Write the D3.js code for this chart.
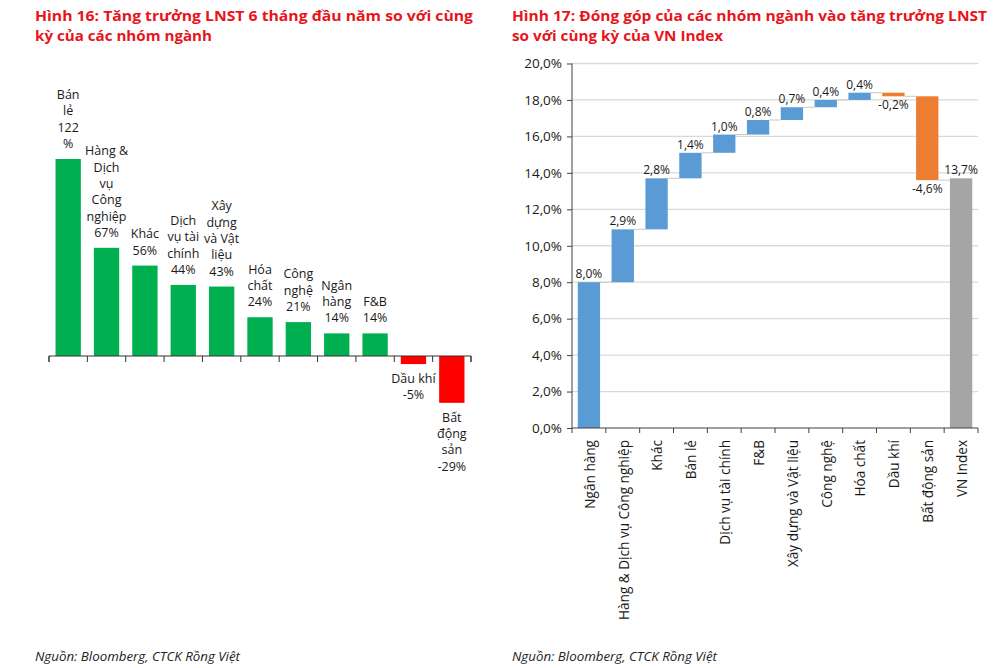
<!DOCTYPE html>
<html>
<head>
<meta charset="utf-8">
<script src="https://cdn.jsdelivr.net/npm/d3@7"></script>
<style>
  html, body { margin: 0; padding: 0; background: #fff; }
  svg { display: block; }
  text { font-family: "Open Sans", "Noto Sans", sans-serif; }
</style>
</head>
<body>
<svg id="chart" width="1000" height="668"></svg>
<script>
// ---------- Data: Hình 16 ----------
const leftCategories = ["Bán lẻ", "Hàng & Dịch vụ Công nghiệp", "Khác", "Dịch vụ tài chính",
  "Xây dựng và Vật liệu", "Hóa chất", "Công nghệ", "Ngân hàng", "F&B", "Dầu khí", "Bất động sản"];
const leftValues = [122, 67, 56, 44, 43, 24, 21, 14, 14, -5, -29];
const leftLabelLines = [
  ["Bán", "lẻ", "122", "%"],
  ["Hàng &", "Dịch", "vụ", "Công", "nghiệp", "67%"],
  ["Khác", "56%"],
  ["Dịch", "vụ tài", "chính", "44%"],
  ["Xây", "dựng", "và Vật", "liệu", "43%"],
  ["Hóa", "chất", "24%"],
  ["Công", "nghệ", "21%"],
  ["Ngân", "hàng", "14%"],
  ["F&B", "14%"],
  ["Dầu khí", "-5%"],
  ["Bất", "động", "sản", "-29%"]
];

// ---------- Data: Hình 17 ----------
const rightCategories = ["Ngân hàng", "Hàng & Dịch vụ Công nghiệp", "Khác", "Bán lẻ",
  "Dịch vụ tài chính", "F&B", "Xây dựng và Vật liệu", "Công nghệ", "Hóa chất",
  "Dầu khí", "Bất động sản", "VN Index"];
const rightValues = [8.0, 2.9, 2.8, 1.4, 1.0, 0.8, 0.7, 0.4, 0.4, -0.2, -4.6, 13.7];
const rightIsTotal = [false, false, false, false, false, false, false, false, false, false, false, true];
const rightTicks = [0, 2, 4, 6, 8, 10, 12, 14, 16, 18, 20];

const titles = {
  left: ["Hình 16: Tăng trưởng LNST 6 tháng đầu năm so với cùng", "kỳ của các nhóm ngành"],
  right: ["Hình 17: Đóng góp của các nhóm ngành vào tăng trưởng LNST", "so với cùng kỳ của VN Index"]
};
const sourceText = "Nguồn: Bloomberg, CTCK Rồng Việt";

// ---------- Styling ----------
const RED_TITLE = "#E8141C";
const GREEN = "#00B050";
const NEG_RED = "#FF0000";
const BLUE = "#5B9BD5";
const ORANGE = "#ED7D31";
const GRAY = "#A5A5A5";

const svg = d3.select("#chart");

// Titles
function drawTitle(x, lines, widths) {
  lines.forEach((t, i) => {
    svg.append("text")
      .attr("x", x).attr("y", 21 + i * 20)
      .attr("fill", RED_TITLE)
      .attr("font-weight", 700)
      .attr("font-size", 15)
      .attr("textLength", widths[i])
      .attr("lengthAdjust", "spacingAndGlyphs")
      .text(t);
  });
}
drawTitle(35, titles.left, [438, 177]);
drawTitle(512, titles.right, [475, 211]);

// Sources
[[35], [512]].forEach(([x]) => {
  svg.append("text")
    .attr("x", x).attr("y", 661)
    .attr("font-size", 12)
    .attr("font-style", "italic")
    .attr("fill", "#222")
    .attr("textLength", 205)
    .attr("lengthAdjust", "spacingAndGlyphs")
    .text(sourceText);
});

// ---------- Left chart ----------
{
  const x = d3.scaleBand().domain(leftCategories).range([49, 471]).paddingInner(0.34).paddingOuter(0.17);
  const y = d3.scaleLinear().domain([0, 122]).range([356, 159]);
  const g = svg.append("g");

  g.selectAll("rect.bar").data(leftCategories).join("rect")
    .attr("x", d => x(d))
    .attr("width", x.bandwidth())
    .attr("y", (d, i) => Math.min(y(leftValues[i]), y(0)))
    .attr("height", (d, i) => Math.abs(y(leftValues[i]) - y(0)))
    .attr("fill", (d, i) => leftValues[i] >= 0 ? GREEN : NEG_RED);

  // axis
  const axis = d3.axisBottom(x).tickSize(6).tickFormat("");
  const ag = g.append("g").attr("transform", `translate(0,${y(0)})`).call(axis);
  ag.select(".domain").attr("d", `M49,6V0H471V6`).attr("stroke", "#333");
  ag.selectAll(".tick").remove();
  const bounds = d3.range(leftCategories.length + 1).map(i => 49 + i * (422 / leftCategories.length));
  ag.selectAll("line.bt").data(bounds).join("line")
    .attr("x1", d => d).attr("x2", d => d).attr("y1", 0).attr("y2", 6)
    .attr("stroke", "#333");

  // labels
  const lh = 16.3;
  leftCategories.forEach((c, i) => {
    const v = leftValues[i];
    const lines = leftLabelLines[i];
    const cx = x(c) + x.bandwidth() / 2;
    const t = g.append("text").attr("text-anchor", "middle").attr("font-size", 12.5).attr("fill", "#1a1a1a");
    if (v >= 0) {
      const baseLast = y(v) - 11;
      lines.forEach((ln, k) => {
        t.append("tspan").attr("x", cx).attr("y", baseLast - (lines.length - 1 - k) * lh).text(ln);
      });
    } else {
      const baseFirst = y(v) + 19;
      lines.forEach((ln, k) => {
        t.append("tspan").attr("x", cx).attr("y", baseFirst + k * lh).text(ln);
      });
    }
  });
}

// ---------- Right chart ----------
{
  const x = d3.scaleBand().domain(rightCategories).range([572, 978]).paddingInner(0.34).paddingOuter(0.17);
  const y = d3.scaleLinear().domain([0, 20]).range([428, 63.5]);
  const g = svg.append("g");
  const fmt = v => (v < 0 ? "-" : "") + Math.abs(v).toFixed(1).replace(".", ",") + "%";

  // gridlines
  g.selectAll("line.grid").data(rightTicks.filter(t => t > 0)).join("line")
    .attr("x1", 572).attr("x2", 978)
    .attr("y1", d => y(d)).attr("y2", d => y(d))
    .attr("stroke", "#D9D9D9").attr("stroke-width", 1.3);

  // waterfall computation
  let cum = 0;
  const segs = rightCategories.map((c, i) => {
    const v = rightValues[i];
    let s, e;
    if (rightIsTotal[i]) { s = 0; e = v; }
    else { s = cum; e = cum + v; cum = e; }
    return { c, v, s, e, total: rightIsTotal[i] };
  });

  // connectors
  segs.slice(0, -1).forEach((d, i) => {
    const n = segs[i + 1];
    g.append("line")
      .attr("x1", x(d.c) + x.bandwidth()).attr("x2", x(n.c))
      .attr("y1", y(d.e)).attr("y2", y(d.e))
      .attr("stroke", "#C8C8C8").attr("stroke-width", 1);
  });

  g.selectAll("rect.wf").data(segs).join("rect")
    .attr("x", d => x(d.c))
    .attr("width", x.bandwidth())
    .attr("y", d => y(Math.max(d.s, d.e)))
    .attr("height", d => Math.abs(y(d.s) - y(d.e)))
    .attr("fill", d => d.total ? GRAY : (d.v >= 0 ? BLUE : ORANGE));

  // value labels
  g.selectAll("text.val").data(segs).join("text")
    .attr("x", d => x(d.c) + x.bandwidth() / 2)
    .attr("y", d => d.v >= 0 ? y(Math.max(d.s, d.e)) - 4 : y(Math.min(d.s, d.e)) + 13)
    .attr("text-anchor", "middle")
    .attr("font-size", 12)
    .attr("fill", "#1a1a1a")
    .text(d => fmt(d.v));

  // y axis
  const ya = g.append("g").attr("transform", "translate(572,0)")
    .call(d3.axisLeft(y).tickValues(rightTicks).tickSize(5).tickPadding(5).tickFormat(d => fmt(d)));
  ya.select(".domain").attr("stroke", "#404040").attr("d", `M0,${y(20)}V${y(0)}`);
  ya.selectAll(".tick line").attr("stroke", "#404040");
  ya.selectAll(".tick text").attr("font-size", 13.5).attr("fill", "#1a1a1a")
    .attr("font-family", "'Open Sans', sans-serif");

  // x axis
  const xa = g.append("g").attr("transform", `translate(0,${y(0)})`)
    .call(d3.axisBottom(x).tickSize(0).tickFormat(""));
  xa.select(".domain").attr("stroke", "#404040").attr("d", `M572,0H978`);
  xa.selectAll(".tick").remove();
  const rb = d3.range(rightCategories.length + 1).map(i => 572 + i * (406 / rightCategories.length));
  xa.selectAll("line.bt").data(rb).join("line")
    .attr("x1", d => d).attr("x2", d => d).attr("y1", 0).attr("y2", 5)
    .attr("stroke", "#404040");

  g.selectAll("text.cat").data(rightCategories).join("text")
    .attr("transform", d => `translate(${x(d) + x.bandwidth() / 2 + 1},${y(0) + 12}) rotate(-90)`)
    .attr("text-anchor", "end")
    .attr("dy", "0.35em")
    .attr("font-size", 13.6)
    .attr("fill", "#1a1a1a")
    .text(d => d);
}
</script>
</body>
</html>
